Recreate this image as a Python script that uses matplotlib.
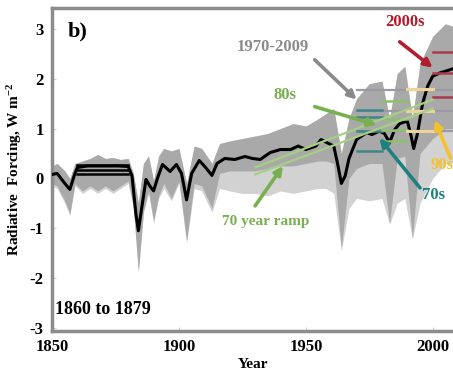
import numpy as np
import matplotlib
matplotlib.use("Agg")
import matplotlib.pyplot as plt

plt.rcParams['font.family'] = ['Liberation Serif', 'DejaVu Serif']
plt.rcParams['font.weight'] = 'bold'
plt.rcParams['mathtext.fontset'] = 'custom'
plt.rcParams['mathtext.rm'] = 'Liberation Serif:bold'
plt.rcParams['mathtext.it'] = 'Liberation Serif:bold'
plt.rcParams['mathtext.bf'] = 'Liberation Serif:bold'

# ensemble mean forcing (black line)
mean_years = [1850, 1852, 1855, 1857, 1859, 1860, 1864, 1870, 1876, 1880, 1881.5, 1883, 1884,
              1885, 1887, 1888.5, 1890, 1891.5, 1893.5, 1896.5, 1899, 1901, 1903, 1905, 1908,
              1910.5, 1913, 1915, 1918, 1922, 1926, 1929, 1932, 1936, 1940, 1944, 1947, 1950,
              1954, 1956, 1959, 1961, 1962.5, 1964, 1965.5, 1967, 1970, 1974, 1976, 1979, 1981,
              1983, 1985, 1987, 1990, 1991.5, 1992.5, 1994, 1996, 1998, 2000, 2003, 2005, 2008]
mean_forcing = [0.08, 0.1, -0.1, -0.22, 0.1, 0.22, 0.25, 0.25, 0.25, 0.24, 0.05, -0.7, -1.05,
                -0.7, -0.02, -0.15, -0.25, 0.0, 0.28, 0.14, 0.28, 0.1, -0.43, 0.1, 0.36,
                0.22, 0.06, 0.3, 0.4, 0.38, 0.44, 0.4, 0.38, 0.52, 0.58, 0.58, 0.65, 0.58,
                0.65, 0.78, 0.7, 0.65, 0.3, -0.1, 0.05, 0.4, 0.78, 0.92, 0.88, 0.95, 0.9,
                0.72, 0.98, 1.1, 1.15, 0.85, 0.6, 0.9, 1.5, 1.85, 2.05, 2.12, 2.15, 2.2]

# ensemble spread (gray): full range, and the dense core of members
env_years = [1850, 1852, 1855, 1857, 1859, 1862, 1865, 1868, 1871, 1874, 1877, 1880, 1882,
             1884, 1886, 1888, 1890, 1892, 1894, 1897, 1900, 1903, 1906, 1909, 1913, 1916,
             1920, 1925, 1930, 1935, 1940, 1945, 1950, 1955, 1958, 1961, 1964, 1967, 1970,
             1975, 1980, 1983, 1986, 1989, 1992, 1995, 2000, 2005, 2008]
env_upper = [0.25, 0.3, 0.15, 0.0, 0.3, 0.35, 0.4, 0.48, 0.4, 0.42, 0.38, 0.4, 0.1,
             -0.5, 0.3, 0.45, -0.05, 0.45, 0.6, 0.55, 0.6, -0.1, 0.65, 0.6, 0.3, 0.7,
             0.75, 0.8, 0.85, 0.9, 1.0, 1.1, 1.05, 1.2, 1.3, 1.4, 0.5, 1.2, 1.6,
             1.9, 1.95, 1.2, 2.1, 2.25, 1.2, 2.3, 2.85, 3.1, 3.05]
env_lower = [-0.15, -0.2, -0.5, -0.75, -0.15, -0.3, -0.2, -0.3, -0.2, -0.3, -0.2, -0.1, -0.6,
             -1.9, -0.7, -0.3, -0.9, -0.4, -0.2, -0.45, -0.1, -1.3, -0.2, -0.25, -0.68, -0.2,
             -0.25, -0.3, -0.3, -0.35, -0.25, -0.3, -0.25, -0.2, -0.2, -0.3, -1.45, -0.6, -0.4,
             -0.45, -0.4, -0.92, -0.5, -0.4, -1.22, -0.5, 0.0, 0.3, 0.3]
core_lower = [-0.1, -0.15, -0.45, -0.7, -0.1, -0.25, -0.15, -0.25, -0.15, -0.25, -0.15, -0.05, -0.55,
              -1.85, -0.65, -0.25, -0.85, -0.35, -0.1, -0.4, -0.05, -1.25, -0.1, -0.15, -0.6, 0.1,
              0.15, 0.15, 0.15, 0.2, 0.25, 0.25, 0.3, 0.35, 0.35, 0.3, -1.4, 0.0, 0.2,
              0.3, 0.3, -0.9, 0.4, 0.45, -1.2, 0.5, 0.8, 1.0, 1.0]

# baseline averages 1860 to 1879
base_span = [1860, 1880]
base_levels = [0.26, 0.17, 0.08]

# decade averages
span_7009 = [1970, 2010]
levels_7009 = [1.78, 1.36, 0.95]
span_70s = [1970, 1980]
levels_70s = [1.38, 1.24, 0.95, 0.55]
span_80s = [1980, 1990]
levels_80s = [1.55, 1.2, 0.98, 0.75]
span_90s = [1990, 2000]
levels_90s = [1.8, 1.35, 0.95]
span_00s = [2000, 2010]
levels_00s = [2.54, 2.12, 1.64]

# 70 year ramp
ramp_years = [1930, 2000]
ramp_a = [0.22, 1.58]
ramp_b = [0.08, 1.40]

fig = plt.figure(figsize=(4.53, 3.77), dpi=100)
ax = fig.add_axes([0.115, 0.122, 0.885, 0.857])

ax.fill_between(env_years, env_lower, env_upper, color='#d2d2d2', lw=0, zorder=1)
ax.fill_between(env_years, core_lower, env_upper, color='#a9a9a9', lw=0, zorder=2)
ax.plot(mean_years, mean_forcing, color='black', lw=2.2, zorder=5)

for lev in base_levels:
    ax.plot(base_span, [lev, lev], color='black', lw=1.8, zorder=6)

for lev in levels_7009:
    ax.plot(span_7009, [lev, lev], color='#9a9aa4', lw=1.6, zorder=6)
for lev in levels_70s:
    ax.plot(span_70s, [lev, lev], color='#3f8488', lw=1.8, zorder=7)
for lev in levels_80s:
    ax.plot(span_80s, [lev, lev], color='#8cc06a', lw=1.8, zorder=7)
for lev in levels_90s:
    ax.plot(span_90s, [lev, lev], color='#eed499', lw=2.2, zorder=7)
for lev in levels_00s:
    ax.plot(span_00s, [lev, lev], color='#a83a50', lw=1.8, zorder=7)

ax.plot(ramp_years, ramp_a, color='#a6cf86', lw=1.6, zorder=8)
ax.plot(ramp_years, ramp_b, color='#a6cf86', lw=1.6, zorder=8)

def label_arrow(txt, xy, xytext, tail, color, size=12):
    ax.text(xytext[0], xytext[1], txt, color=color, fontsize=size,
            fontweight='bold', ha='center', va='center', zorder=10)
    ax.annotate('', xy=xy, xytext=tail,
                arrowprops=dict(arrowstyle='-|>', lw=2.6, color=color,
                                mutation_scale=12, shrinkA=0, shrinkB=0), zorder=10)

label_arrow('2000s', (2000, 2.22), (1989, 3.14), (1987, 2.74), '#b01d2c')
label_arrow('1970-2009', (1970, 1.58), (1937, 2.64), (1953.5, 2.38), '#8a8a8a')
label_arrow('80s', (1978, 1.07), (1941.7, 1.68), (1953.5, 1.44), '#78b050')
label_arrow('70s', (1979, 0.81), (2000.5, -0.33), (1995, -0.19), '#1f8080')
label_arrow('90s', (2000.8, 1.17), (2003.5, 0.27), (2007, 0.41), '#f2c12e')
label_arrow('70 year ramp', (1941, 0.25), (1934, -0.87), (1930, -0.55), '#78b050', size=11)

ax.text(1860, 2.95, 'b)', fontsize=16, fontweight='bold', ha='center', va='center')
ax.text(1851, -2.62, '1860 to 1879', fontsize=13, fontweight='bold', ha='left', va='center')

ax.set_xlim(1850, 2008)
ax.set_ylim(-3.06, 3.42)
ax.set_xticks([1850, 1900, 1950, 2000])
ax.set_yticks([-3, -2, -1, 0, 1, 2, 3])
ax.set_yticklabels(['-3', '-2', '-1', '0', '1', '2', '3'])
ax.tick_params(direction='in', length=3, color='#d0d0d0', labelsize=12, pad=6)
for lab in ax.get_xticklabels() + ax.get_yticklabels():
    lab.set_fontweight('bold')

for s in ['left', 'top', 'bottom']:
    ax.spines[s].set_color('#8c8c8c')
    ax.spines[s].set_linewidth(2.5)
ax.spines['right'].set_visible(False)

ax.set_xlabel('Year', fontsize=11, fontweight='bold', labelpad=2)
ax.set_ylabel('Radiative  Forcing, W m$^{-2}$', fontsize=11, fontweight='bold', labelpad=4)

fig.savefig('out.png', dpi=100)
